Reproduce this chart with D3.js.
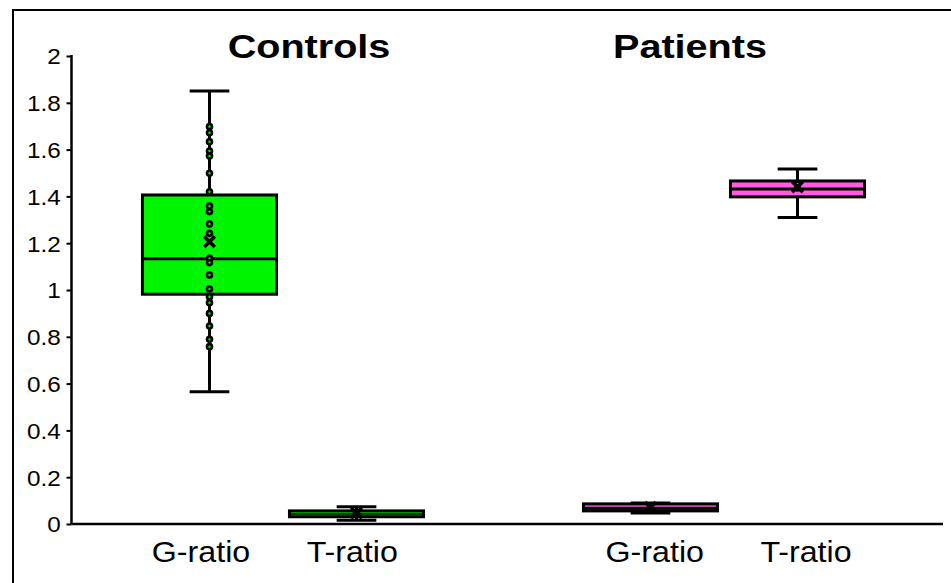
<!DOCTYPE html>
<html><head><meta charset="utf-8">
<script src="https://cdnjs.cloudflare.com/ajax/libs/d3/7.8.5/d3.min.js"></script>
<style>body{margin:0;background:#fff}svg{display:block}text{font-family:Arial,"Liberation Sans",sans-serif;fill:#000}</style>
</head><body><div id="chart"></div>
<script>
// ---- data ----
const groups = ["Controls", "Patients"];
const slots = ["Controls G-ratio", "Controls T-ratio", "gap", "Patients G-ratio", "Patients T-ratio"];
const boxKeys = ["Controls G-ratio", "Controls T-ratio", "Patients G-ratio", "Patients T-ratio"];
const boxGroups = ["Controls", "Controls", "Patients", "Patients"];
const xLabels = ["G-ratio", "T-ratio", "G-ratio", "T-ratio"];
const whiskerLow  = [0.565, 0.016, 0.047, 1.310];
const q1          = [0.982, 0.031, 0.056, 1.398];
const median      = [1.134, 0.043, 0.067, 1.432];
const q3          = [1.406, 0.056, 0.086, 1.466];
const whiskerHigh = [1.850, 0.074, 0.090, 1.517];
const means       = [1.206, 0.047, 0.071, 1.440];
const controlsGPoints = [1.698, 1.672, 1.634, 1.594, 1.573, 1.499, 1.420, 1.359, 1.335, 1.282, 1.242,
                         1.135, 1.117, 1.064, 1.004, 0.971, 0.946, 0.900, 0.846, 0.789, 0.758];
const controlsTPoints = [0.050, 0.044];
const patientsGPoints = [0.070];
const patientsTPoints = [1.452, 1.436];
const yTicks = [0, 0.2, 0.4, 0.6, 0.8, 1, 1.2, 1.4, 1.6, 1.8, 2];

// ---- layout / style ----
const W = 951, H = 583;
const colors = d3.scaleOrdinal(groups, ["#00f500", "#ff5ce1"]);
const svg = d3.select("#chart").append("svg").attr("width", W).attr("height", H);

svg.append("rect").attr("x", 13).attr("y", 10).attr("width", 1000).attr("height", 700)
  .attr("fill", "none").attr("stroke", "#000").attr("stroke-width", 2);

const y = d3.scaleLinear().domain([0, 2]).range([524, 56]);
const x = d3.scalePoint().domain(slots).range([209.5, 797.5]);
const step = x.step();
const labelX = d3.scalePoint().domain(slots).range([201, 806]);
const titleX = d3.scalePoint().domain(groups).range([309, 690]);
const axisX0 = 71.5, axisX1 = 943;

// y axis
const yAxis = d3.axisLeft(y).tickValues(yTicks).tickFormat(d3.format("~g")).tickSize(5).tickPadding(5);
const ga = svg.append("g").attr("transform", `translate(${axisX0},0)`).call(yAxis);
ga.select(".domain").attr("stroke", "#000").attr("stroke-width", 2.5).attr("d", `M0,${y(2)-1}V${y(0)}`);
ga.selectAll(".tick line").attr("stroke", "#000").attr("stroke-width", 2);
ga.selectAll(".tick text").attr("font-size", 22.5).attr("font-family", "Arial, 'Liberation Sans', sans-serif")
  .attr("transform", "scale(1.08,1)").attr("dy", "0.35em");

// x axis line
svg.append("line").attr("x1", axisX0).attr("x2", axisX1).attr("y1", y(0)).attr("y2", y(0))
  .attr("stroke", "#000").attr("stroke-width", 2.5);

// boxes
const boxW = step * 0.912, capW = step * 0.27;
boxKeys.forEach((k, i) => {
  const cx = x(k);
  const g = svg.append("g");
  g.append("line").attr("x1", cx).attr("x2", cx).attr("y1", y(whiskerLow[i])).attr("y2", y(whiskerHigh[i]))
    .attr("stroke", "#000").attr("stroke-width", 3);
  [whiskerLow[i], whiskerHigh[i]].forEach(v => {
    g.append("line").attr("x1", cx - capW / 2).attr("x2", cx + capW / 2).attr("y1", y(v)).attr("y2", y(v))
      .attr("stroke", "#000").attr("stroke-width", 3);
  });
  g.append("rect").attr("x", cx - boxW / 2).attr("width", boxW)
    .attr("y", y(q3[i])).attr("height", y(q1[i]) - y(q3[i]))
    .attr("fill", colors(boxGroups[i])).attr("stroke", "#000").attr("stroke-width", 3);
  g.append("line").attr("x1", cx - boxW / 2).attr("x2", cx + boxW / 2).attr("y1", y(median[i])).attr("y2", y(median[i]))
    .attr("stroke", "#000").attr("stroke-width", i === 1 ? 1.5 : 3);
});

// points
const pointSets = [controlsGPoints, controlsTPoints, patientsGPoints, patientsTPoints];
pointSets.forEach((pts, i) => {
  svg.append("g").selectAll("circle").data(pts).join("circle")
    .attr("cx", x(boxKeys[i])).attr("cy", d => y(d)).attr("r", 2.5)
    .attr("fill", colors(boxGroups[i])).attr("stroke", "#000").attr("stroke-width", 2.6);
});

// means
svg.append("g").selectAll("path").data(means).join("path")
  .attr("transform", (d, i) => `translate(${x(boxKeys[i])},${y(d)})`)
  .attr("d", d3.symbol(d3.symbolTimes, 75))
  .attr("fill", "none").attr("stroke", "#000").attr("stroke-width", 3.5);

// x labels
svg.append("g").selectAll("g").data(xLabels).join("g")
  .attr("transform", (d, i) => `translate(${labelX(boxKeys[i])},562)`)
  .append("text").attr("text-anchor", "middle").attr("font-size", 29)
  .attr("transform", "scale(1.11,1)").text(d => d);

// titles
svg.append("g").selectAll("g").data(groups).join("g")
  .attr("transform", d => `translate(${titleX(d)},58)`)
  .append("text").attr("text-anchor", "middle").attr("font-size", 33).attr("font-weight", "bold")
  .attr("transform", "scale(1.2,1)").text(d => d);
</script></body></html>
